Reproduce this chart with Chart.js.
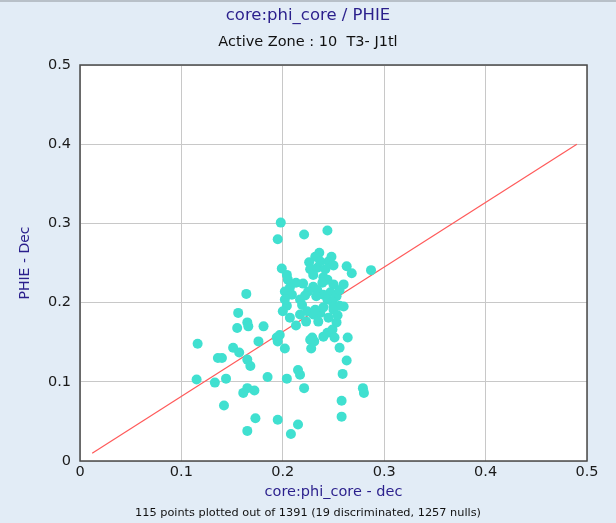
<!DOCTYPE html>
<html>
<head>
<meta charset="utf-8">
<title>core:phi_core / PHIE</title>
<script src="https://cdn.jsdelivr.net/npm/chart.js@4.4.1/dist/chart.umd.min.js"></script>
<style>
  html, body { margin: 0; padding: 0; background: #e2ecf6; }
  #wrap { width: 616px; height: 523px; }
</style>
</head>
<body>
<div id="wrap"><canvas id="crossplot" width="616" height="523"></canvas></div>
<script>
// core porosity (x) vs log PHIE (y), one entry per plotted sample
const phiCore = [
  0.198, 0.195, 0.221, 0.244, 0.236, 0.232, 0.226, 0.248, 0.245, 0.263,
  0.268, 0.199, 0.204, 0.227, 0.234, 0.205, 0.213, 0.220, 0.230, 0.230,
  0.240, 0.244, 0.250, 0.202, 0.209, 0.217, 0.234, 0.240, 0.247, 0.253,
  0.244, 0.249, 0.250, 0.256, 0.260, 0.204, 0.207, 0.217, 0.224, 0.230,
  0.237, 0.232, 0.240, 0.250, 0.229, 0.231, 0.240, 0.244, 0.249, 0.253,
  0.256, 0.239, 0.225, 0.237, 0.164, 0.156, 0.165, 0.166, 0.155, 0.181,
  0.116, 0.151, 0.176, 0.194, 0.195, 0.202, 0.157, 0.136, 0.140, 0.165,
  0.168, 0.227, 0.228, 0.263, 0.259, 0.115, 0.133, 0.144, 0.185, 0.204,
  0.215, 0.217, 0.221, 0.161, 0.165, 0.172, 0.142, 0.173, 0.195, 0.215,
  0.208, 0.165, 0.258, 0.258, 0.279, 0.280, 0.287, 0.197, 0.202, 0.222,
  0.250, 0.233, 0.256, 0.207, 0.200, 0.254, 0.245, 0.213, 0.219, 0.242,
  0.260, 0.223, 0.251, 0.235, 0.264
];
const phie = [
  0.301, 0.280, 0.286, 0.291, 0.263, 0.258, 0.251, 0.258, 0.252, 0.246,
  0.237, 0.243, 0.235, 0.242, 0.244, 0.229, 0.225, 0.224, 0.235, 0.220,
  0.232, 0.229, 0.223, 0.214, 0.210, 0.204, 0.216, 0.210, 0.213, 0.208,
  0.204, 0.201, 0.195, 0.196, 0.195, 0.196, 0.181, 0.185, 0.189, 0.185,
  0.187, 0.191, 0.194, 0.191, 0.156, 0.151, 0.157, 0.162, 0.166, 0.175,
  0.143, 0.225, 0.214, 0.252, 0.211, 0.187, 0.175, 0.170, 0.168, 0.170,
  0.148, 0.143, 0.151, 0.156, 0.151, 0.142, 0.137, 0.130, 0.130, 0.128,
  0.120, 0.153, 0.142, 0.127, 0.110, 0.103, 0.099, 0.104, 0.106, 0.104,
  0.115, 0.109, 0.092, 0.086, 0.092, 0.089, 0.070, 0.054, 0.052, 0.046,
  0.034, 0.038, 0.076, 0.056, 0.092, 0.086, 0.241, 0.159, 0.204, 0.209,
  0.247, 0.208, 0.216, 0.219, 0.189, 0.184, 0.181, 0.171, 0.197, 0.242,
  0.223, 0.176, 0.156, 0.176, 0.156
];
// fitted trend line end points
const trendX = [0.012, 0.49];
const trendY = [0.0098, 0.40];

const axisTicks = [0, 0.1, 0.2, 0.3, 0.4, 0.5];
const footerText = '115 points plotted out of 1391 (19 discriminated, 1257 nulls)';

const titleBlue = '#2a1f8c';
const FONT = "'DejaVu Sans', Tahoma, sans-serif";

const points = phiCore.map((x, i) => ({ x: x, y: phie[i] }));
const trend = trendX.map((x, i) => ({ x: x, y: trendY[i] }));

// white plot area, dark frame, footer line
const plotFrame = {
  id: 'plotFrame',
  beforeDraw(chart) {
    const { ctx, chartArea: a } = chart;
    ctx.save();
    ctx.fillStyle = '#e2ecf6';
    ctx.fillRect(0, 0, chart.width, chart.height);
    ctx.fillStyle = '#b8c0c8';
    ctx.fillRect(0, 0, chart.width, 2);
    ctx.fillStyle = '#ffffff';
    ctx.fillRect(a.left, a.top, a.right - a.left, a.bottom - a.top);
    ctx.restore();
  },
  afterDraw(chart) {
    const { ctx, chartArea: a } = chart;
    ctx.save();
    ctx.strokeStyle = '#4a4a4a';
    ctx.lineWidth = 1.5;
    ctx.strokeRect(a.left, a.top, a.right - a.left, a.bottom - a.top);
    ctx.fillStyle = '#111';
    ctx.font = "11.3px " + FONT;
    ctx.textAlign = 'center';
    ctx.textBaseline = 'middle';
    ctx.fillText(footerText, chart.width / 2, 513);
    ctx.restore();
  }
};

new Chart(document.getElementById('crossplot'), {
  type: 'scatter',
  data: {
    datasets: [
      {
        label: 'trend',
        type: 'line',
        data: trend,
        borderColor: '#ff5a5a',
        borderWidth: 1.2,
        pointRadius: 0,
        fill: false,
        order: 2
      },
      {
        label: 'PHIE',
        data: points,
        backgroundColor: '#40e0d0',
        borderWidth: 0,
        pointRadius: 5,
        pointHoverRadius: 5,
        order: 1
      }
    ]
  },
  options: {
    responsive: false,
    animation: false,
    layout: { padding: { left: 0, right: 0, top: 0, bottom: 22 } },
    plugins: {
      legend: { display: false },
      tooltip: { enabled: false },
      title: {
        display: true,
        text: 'core:phi_core / PHIE',
        color: titleBlue,
        font: { family: FONT, size: 16.5, weight: 'normal', lineHeight: 1.2 },
        padding: { top: 6, bottom: 7.5 }
      },
      subtitle: {
        display: true,
        text: 'Active Zone : 10  T3- J1tl',
        color: '#111',
        font: { family: FONT, size: 14.5, weight: 'normal', lineHeight: 1.2 },
        padding: { top: 0, bottom: 14.3 }
      }
    },
    scales: {
      x: {
        type: 'linear',
        min: 0,
        max: 0.5,
        afterBuildTicks(scale) { scale.ticks = axisTicks.map(v => ({ value: v })); },
        afterFit(scale) { scale.height = 40; },
        ticks: { color: '#1a1a1a', font: { family: FONT, size: 14.5 }, padding: 3, maxRotation: 0 },
        grid: { color: '#c8c8c8', lineWidth: 1, drawTicks: false },
        border: { display: false },
        title: {
          display: true,
          text: 'core:phi_core - dec',
          color: titleBlue,
          font: { family: FONT, size: 14.5 },
          padding: { top: 0, bottom: 0 }
        }
      },
      y: {
        type: 'linear',
        min: 0,
        max: 0.5,
        afterBuildTicks(scale) { scale.ticks = axisTicks.map(v => ({ value: v })); },
        afterFit(scale) { scale.width = 80; },
        ticks: { color: '#1a1a1a', font: { family: FONT, size: 14.5 }, padding: 9 },
        grid: { color: '#c8c8c8', lineWidth: 1, drawTicks: false },
        border: { display: false },
        title: {
          display: true,
          text: 'PHIE - Dec',
          color: titleBlue,
          font: { family: FONT, size: 14 },
          padding: { top: 16.6, bottom: 0 }
        }
      },
      // empty right-hand margin so the titles stay centred on the whole panel
      yMargin: {
        type: 'linear',
        position: 'right',
        min: 0,
        max: 0.5,
        afterFit(scale) { scale.width = 29; },
        ticks: { display: false },
        grid: { display: false, drawTicks: false },
        border: { display: false }
      }
    }
  },
  plugins: [plotFrame]
});
</script>
</body>
</html>
